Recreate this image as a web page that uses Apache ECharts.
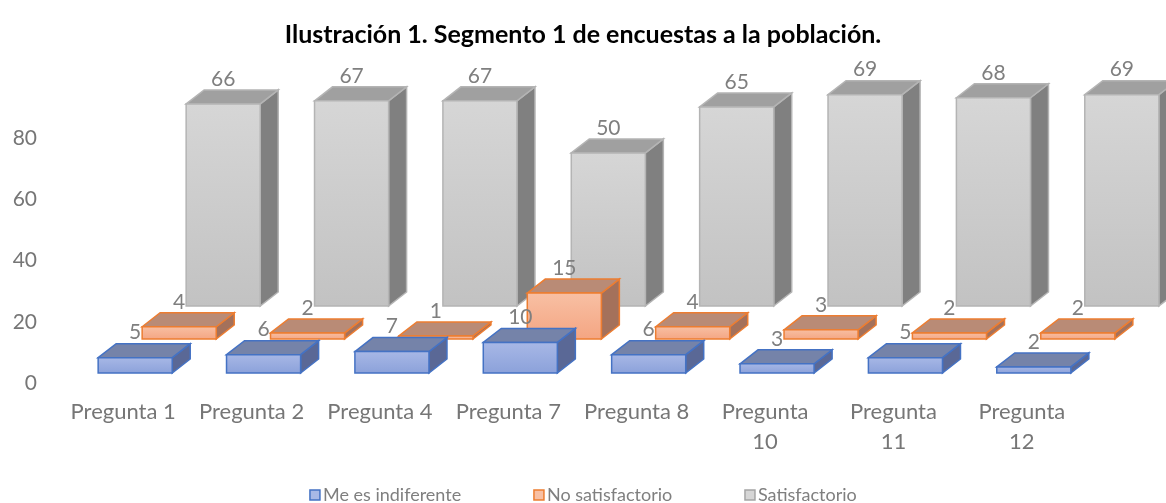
<!DOCTYPE html>
<html>
<head>
<meta charset="utf-8">
<script src="https://cdn.jsdelivr.net/npm/echarts@6/dist/echarts.min.js"></script>
<style>
  html, body { margin: 0; padding: 0; background: #fff; }
  #chart { width: 1166px; height: 503px; }
</style>
</head>
<body>
<div id="chart"></div>
<script>
const categories = [
  'Pregunta 1', 'Pregunta 2', 'Pregunta 4', 'Pregunta 7',
  'Pregunta 8', 'Pregunta\n10', 'Pregunta\n11', 'Pregunta\n12',
]
const indiferente = [5, 6, 7, 10, 6, 3, 5, 2]
const noSatisfactorio = [4, 2, 1, 15, 4, 3, 2, 2]
const satisfactorio = [66, 67, 67, 50, 65, 69, 68, 69]
const yMin = 0
const yMax = 80
const yStep = 20

const FONT = 'Lato'

// fake 3D: each series sits on its own depth row
const depth = { dx: 18, dy: -14 }
const rows = {
  blue: { dx: 12, dy: -10 },
  orange: { dx: 56, dy: -44 },
  gray: { dx: 100, dy: -77 },
}
const palette = {
  blue: {
    front: ['#a8b8e6', '#8ba1da'], top: '#7583a9', side: '#5a6896', border: '#4472c4',
  },
  orange: {
    front: ['#f8c0a4', '#f4a582'], top: '#b98b76', side: '#a4715b', border: '#ed7d31',
  },
  gray: {
    front: ['#d6d6d6', '#c2c2c2'], top: '#a0a0a0', side: '#808080', border: '#b4b4b4',
  },
}

function bar3d(row, pal) {
  return function (params, api) {
    const base = api.coord([api.value(0), 0])
    const top = api.coord([api.value(0), api.value(1)])
    const bw = api.size([1, 0])[0] * 0.577
    const cx = base[0] + row.dx
    const x0 = cx - bw / 2
    const x1 = cx + bw / 2
    const yb = base[1] + row.dy
    const yt = top[1] + row.dy
    const lw = 1.5
    return {
      type: 'group',
      children: [
        {
          type: 'polygon',
          shape: { points: [[x1, yt], [x1 + depth.dx, yt + depth.dy], [x1 + depth.dx, yb + depth.dy], [x1, yb]] },
          style: { fill: pal.side, stroke: pal.border, lineWidth: lw },
        },
        {
          type: 'polygon',
          shape: { points: [[x0, yt], [x0 + depth.dx, yt + depth.dy], [x1 + depth.dx, yt + depth.dy], [x1, yt]] },
          style: { fill: pal.top, stroke: pal.border, lineWidth: lw },
        },
        {
          type: 'rect',
          shape: { x: x0, y: yt, width: bw, height: yb - yt },
          style: {
            fill: new echarts.graphic.LinearGradient(0, 0, 0, 1, [
              { offset: 0, color: pal.front[0] },
              { offset: 1, color: pal.front[1] },
            ]),
            stroke: pal.border,
            lineWidth: lw,
          },
        },
        {
          type: 'text',
          style: {
            text: String(api.value(1)),
            x: cx,
            y: yt + depth.dy - 11,
            align: 'center',
            verticalAlign: 'middle',
            fill: '#7f7f7f',
            font: '21px ' + FONT,
          },
        },
      ],
    }
  }
}

function seriesOf(name, key, values) {
  return {
    name,
    type: 'custom',
    clip: false,
    renderItem: bar3d(rows[key], palette[key]),
    itemStyle: { color: palette[key].front[0], borderColor: palette[key].border, borderWidth: 1.5 },
    encode: { x: 0, y: 1 },
    data: values.map((v, i) => [i, v]),
  }
}

const chart = echarts.init(document.getElementById('chart'))
chart.setOption({
  animation: false,
  backgroundColor: '#fff',
  title: {
    text: 'Ilustración 1. Segmento 1 de encuestas a la población.',
    left: 'center',
    top: 17,
    textStyle: { fontFamily: FONT, fontSize: 25, fontWeight: 'bold', color: '#000' },
  },
  legend: {
    left: 'center',
    top: 481,
    itemWidth: 10,
    itemHeight: 10,
    itemGap: 72,
    icon: 'rect',
    textStyle: { fontFamily: FONT, fontSize: 18, color: '#7f7f7f', padding: [0, 0, 0, -2] },
    data: [
      { name: 'Me es indiferente', itemStyle: { color: palette.blue.front[0], borderColor: palette.blue.border, borderWidth: 1.5 } },
      { name: 'No satisfactorio', itemStyle: { color: palette.orange.front[0], borderColor: palette.orange.border, borderWidth: 1.5 } },
      { name: 'Satisfactorio', itemStyle: { color: palette.gray.front[0], borderColor: '#a5a5a5', borderWidth: 1.5 } },
    ],
  },
  grid: { left: 59, right: 80, top: 138, bottom: 120 },
  xAxis: {
    type: 'category',
    data: categories,
    axisLine: { show: false },
    axisTick: { show: false },
    axisLabel: { color: '#767676', fontFamily: FONT, fontSize: 22, margin: 14, lineHeight: 30, interval: 0 },
  },
  yAxis: {
    type: 'value',
    min: yMin,
    max: yMax,
    interval: yStep,
    axisLine: { show: false },
    axisTick: { show: false },
    splitLine: { show: false },
    axisLabel: { color: '#767676', fontFamily: FONT, fontSize: 21, margin: 22 },
  },
  series: [
    seriesOf('Satisfactorio', 'gray', satisfactorio),
    seriesOf('No satisfactorio', 'orange', noSatisfactorio),
    seriesOf('Me es indiferente', 'blue', indiferente),
  ],
})
</script>
</body>
</html>
